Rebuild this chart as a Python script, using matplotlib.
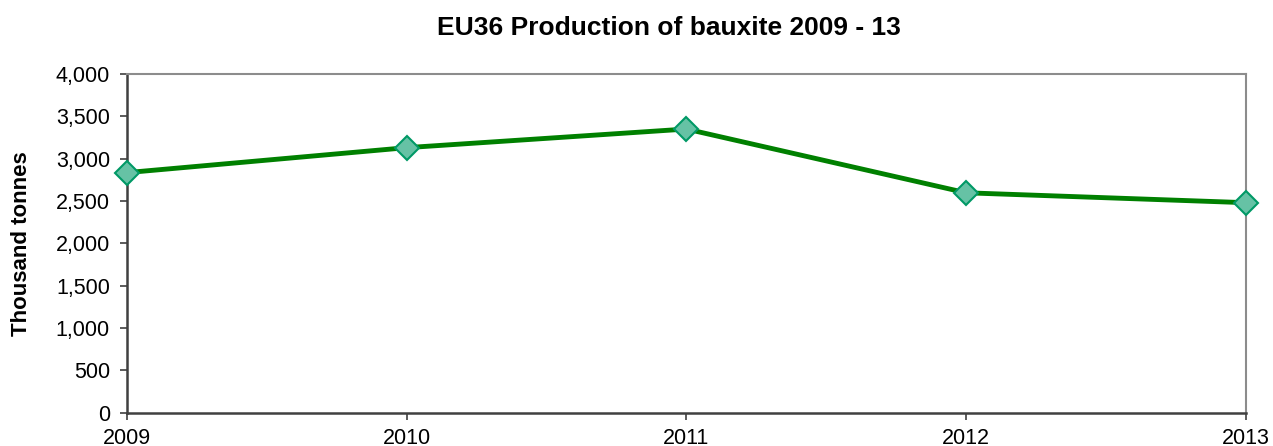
import matplotlib.pyplot as plt
from matplotlib.ticker import FuncFormatter

# data
years = [2009, 2010, 2011, 2012, 2013]
production = [2835, 3130, 3350, 2597, 2480]
y_ticks = list(range(0, 4001, 500))

plt.rcParams['font.family'] = ['Liberation Sans', 'DejaVu Sans']

fig = plt.figure(figsize=(12.73, 4.46), dpi=100)
ax = fig.add_axes([0.0995, 0.0747, 0.8793, 0.7594])

ax.plot(years, production, color='#008000', linewidth=3.5, marker='D',
        markersize=12, markerfacecolor='#66C2A5', markeredgecolor='#009966',
        markeredgewidth=1.5, clip_on=False, zorder=3)

ax.set_xlim(years[0], years[-1])
ax.set_ylim(0, 4000)
ax.set_xticks(years)
ax.set_yticks(y_ticks)
ax.yaxis.set_major_formatter(FuncFormatter(lambda v, p: f'{int(v):,}'))

ax.tick_params(axis='both', labelsize=15.5, direction='out', length=5,
               width=1.2, color='#404040')
ax.tick_params(axis='y', pad=7)
ax.tick_params(axis='x', pad=6)

for side in ['top', 'right']:
    ax.spines[side].set_color('#8c8c8c')
    ax.spines[side].set_linewidth(1.5)
for side in ['left', 'bottom']:
    ax.spines[side].set_color('#404040')
    ax.spines[side].set_linewidth(1.8)

ax.set_ylabel('Thousand tonnes', fontsize=16, fontweight='bold')
ax.yaxis.set_label_coords(-0.085, 0.5)
fig.text(0.5255, 0.937, 'EU36 Production of bauxite 2009 - 13', fontsize=19,
         fontweight='bold', ha='center', va='center')

fig.savefig('out.png', dpi=100)
